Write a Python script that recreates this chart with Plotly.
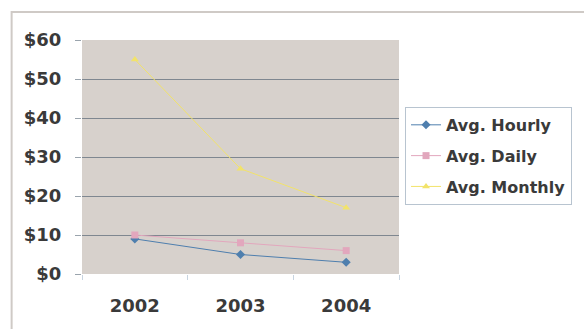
import plotly.graph_objects as go

years = ["2002", "2003", "2004"]
avg_hourly = [9, 5, 3]
avg_daily = [10, 8, 6]
avg_monthly = [55, 27, 17]
y_ticks = [0, 10, 20, 30, 40, 50, 60]
y_tick_labels = ["$0", "$10", "$20", "$30", "$40", "$50", "$60"]

series = [
    ("Avg. Hourly", avg_hourly, "#4f7fae", "diamond", "g1"),
    ("Avg. Daily", avg_daily, "#e2a7bd", "square", "g2"),
    ("Avg. Monthly", avg_monthly, "#f2e36a", "triangle-up", "g3"),
]

fig = go.Figure()
for name, vals, col, sym, grp in series:
    fig.add_trace(go.Scatter(
        x=years, y=vals, name=name, mode="lines+markers",
        legendgroup=grp,
        line=dict(color=col, width=1),
        marker=dict(color=col, symbol=sym, size=7),
    ))

fig.update_layout(
    width=584, height=329,
    margin=dict(l=82, r=182, t=40, b=55),
    paper_bgcolor="white",
    plot_bgcolor="#d7d1cc",
    font=dict(family="DejaVu Sans", color="#333333"),
    showlegend=True,
    legend=dict(
        x=1.019, xanchor="left", y=0.714, yanchor="top",
        bgcolor="white", bordercolor="#b8c4d0", borderwidth=1,
        font=dict(size=16, color="#3a3a3a", weight="bold"),
        tracegroupgap=7, itemwidth=30,
    ),
    xaxis=dict(
        type="category", range=[-0.5, 2.5],
        showgrid=False, zeroline=False,
        tickfont=dict(size=18, weight="bold", color="#3a3a3a"),
        ticks="outside", tickson="boundaries", ticklen=5, tickcolor="#c8d4e0",
        ticklabelstandoff=19,
        showline=False,
    ),
    yaxis=dict(
        range=[0, 60], tickvals=y_ticks, ticktext=y_tick_labels,
        showgrid=True, gridcolor="#7f8790", gridwidth=1,
        zeroline=False, tickfont=dict(size=18, weight="bold", color="#3a3a3a"),
        ticks="outside", ticklen=6, tickcolor="#9aa4ad",
        ticklabelstandoff=10,
        showline=False,
    ),
    shapes=[dict(
        type="rect", xref="paper", yref="paper",
        x0=-0.222, x1=1.7, y0=-0.4, y1=1.12,
        line=dict(color="#cfcac6", width=2), fillcolor="rgba(0,0,0,0)",
        layer="below",
    )],
)

fig.write_html("out.html", config={"displayModeBar": False},
               post_script="document.body.style.margin='0px';")
